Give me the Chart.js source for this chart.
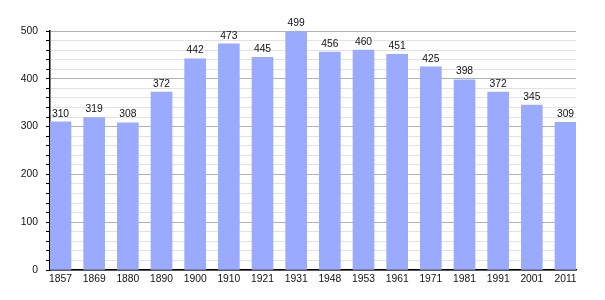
<!DOCTYPE html>
<html>
<head>
<meta charset="utf-8">
<script src="https://cdn.jsdelivr.net/npm/chart.js@4/dist/chart.umd.min.js"></script>
<style>
  html,body{margin:0;padding:0;background:#fff}
  #wrap{width:605px;height:300px;position:relative}
</style>
</head>
<body>
<div id="wrap"><canvas id="c"></canvas></div>
<script>
// ─── DATA ───
const years = ['1857','1869','1880','1890','1900','1910','1921','1931','1948','1953','1961','1971','1981','1991','2001','2011'];
const population = [310,319,308,372,442,473,445,499,456,460,451,425,398,372,345,309];
const yTicks = [0,100,200,300,400,500];

const FONT = 'Liberation Sans, Arial, sans-serif';
const isMajor = c => !!(c.tick && c.tick.value%100===0);

// value labels on top of each bar
const valueLabels = {
  id:'valueLabels',
  afterDatasetsDraw(chart){
    const ctx=chart.ctx, meta=chart.getDatasetMeta(0);
    ctx.save();
    ctx.font='10.3px '+FONT;
    ctx.fillStyle='#111';
    ctx.textAlign='center';
    ctx.textBaseline='bottom';
    meta.data.forEach((bar,i)=>{ ctx.fillText(String(population[i]), bar.x, bar.y-3); });
    ctx.restore();
  }
};

// bars flush with both ends of the plot: index scale with a small margin
const edge = 0.312;

new Chart(document.getElementById('c').getContext('2d'),{
  type:'bar',
  data:{datasets:[{
    data:population.map((v,i)=>({x:i,y:v})),
    backgroundColor:'#9aabff',
    borderWidth:0,
    barThickness:21
  }]},
  options:{
    responsive:true, maintainAspectRatio:false, animation:false,
    layout:{padding:{top:31,right:29,left:0,bottom:0}},
    plugins:{legend:{display:false},tooltip:{enabled:false}},
    scales:{
      x:{
        type:'linear',
        min:-edge, max:years.length-1+edge,
        offset:false,
        grid:{display:false,drawTicks:false},
        border:{color:'#000',width:1.5},
        afterBuildTicks:s=>{ s.ticks = years.map((_,i)=>({value:i})); },
        ticks:{
          autoSkip:false, maxRotation:0,
          color:'#111',font:{family:FONT,size:10.3},padding:3,
          callback:v=>years[Math.round(v)] || ''
        },
        afterFit:s=>{ s.height=30; }
      },
      y:{
        min:0,max:500,
        grid:{
          color:c=>isMajor(c) ? '#b0b0b0' : '#e2e2e2',
          tickColor:'#000',
          tickLength:4,
          lineWidth:1
        },
        border:{color:'#000',width:1.5},
        ticks:{
          stepSize:20, autoSkip:false,
          color:'#111',
          font:{family:FONT,size:10.3},
          padding:8,
          callback:v=>yTicks.includes(v) ? String(v) : ''
        },
        afterFit:s=>{ s.width=50; }
      }
    }
  },
  plugins:[valueLabels]
});
</script>
</body>
</html>
